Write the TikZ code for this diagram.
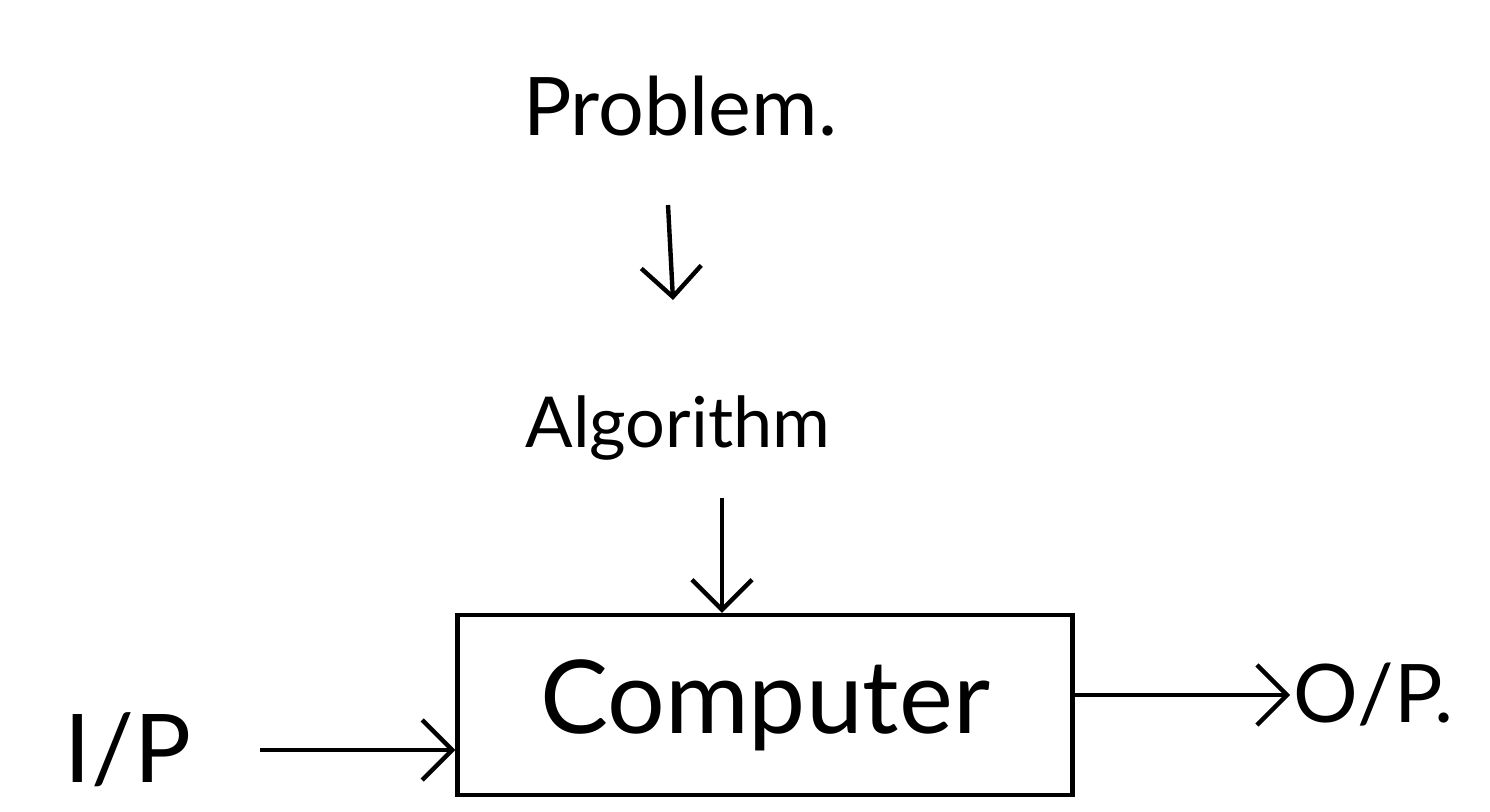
\documentclass[tikz,border=0pt]{standalone}
\usepackage{fontspec}
\setmainfont{Lato}
\usetikzlibrary{arrows.meta, positioning}

\begin{document}
\begin{tikzpicture}[
  word/.style={inner sep=2pt, font=\fontsize{46}{52}\selectfont},
  machine/.style={draw, line width=2.5pt, minimum width=12.3cm, minimum height=3.6cm,
    font=\fontsize{58}{66}\selectfont},
  arrow/.style={-{Straight Barb[length=6mm, width=12mm, line width=2.5pt]}, line width=2.5pt}
]
  \useasboundingbox (0,0) rectangle (29.8,-16.22);
  \node[word, anchor=base] (prob) at (13.6,-2.7) {Problem.};
  \node[word, anchor=base, font=\fontsize{40}{46}\selectfont] (algo) at (13.56,-8.94) {Algorithm};
  \node[machine] (comp) at (15.3,-14.1) {Computer};
  \node[word, anchor=east, font=\fontsize{54}{60}\selectfont] (in) at (3.9,-15.0) {I/P};
  \node[word, anchor=west] (out) at (25.8,-13.9) {O/P.};
  \draw[arrow] ([xshift=-0.24cm, yshift=-1.4cm]prob.base) -- ([xshift=-0.1cm, yshift=2.94cm]algo.base);
  \draw[arrow] ([xshift=0.88cm, yshift=-1.02cm]algo.base) -- ([xshift=-0.86cm]comp.north);
  \draw[arrow, shorten <=1.3cm] (in.east) -- (in.east -| comp.west);
  \draw[arrow] (comp.east |- out.west) -- (out.west);
\end{tikzpicture}
\end{document}
